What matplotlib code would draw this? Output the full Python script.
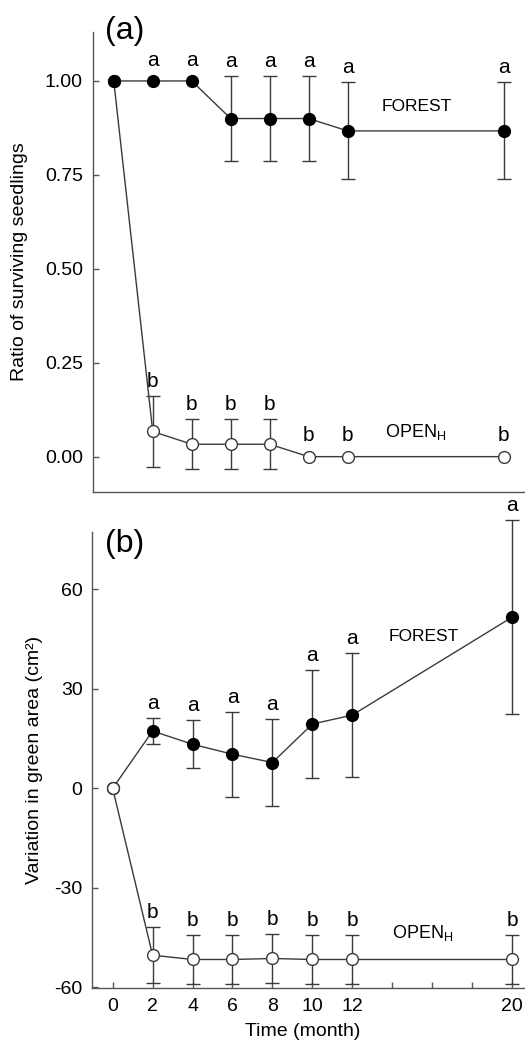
import matplotlib.pyplot as plt
import numpy as np

plt.rcParams['font.family'] = ['Liberation Sans', 'DejaVu Sans']
plt.rcParams['mathtext.default'] = 'regular'
plt.rcParams['axes.unicode_minus'] = False

# months
months = [0, 2, 4, 6, 8, 10, 12, 20]

# (a) ratio of surviving seedlings
forest_a = [1.0, 1.0, 1.0, 0.90, 0.90, 0.90, 0.867, 0.867]
forest_a_err = [0, 0, 0, 0.113, 0.113, 0.113, 0.129, 0.129]
open_a = [1.0, 0.067, 0.033, 0.033, 0.033, 0.0, 0.0, 0.0]
open_a_err = [0, 0.095, 0.067, 0.067, 0.067, 0, 0, 0]

# (b) variation in green area
forest_b = [0, 17.3, 13.3, 10.3, 7.8, 19.4, 22.1, 51.6]
forest_b_err = [0, 4.0, 7.2, 12.8, 13.0, 16.3, 18.6, 29.2]
open_b = [0, -50.3, -51.6, -51.6, -51.3, -51.6, -51.6, -51.6]
open_b_err = [0, 8.4, 7.5, 7.5, 7.5, 7.5, 7.5, 7.5]

# significance letters (from month 2 on)
forest_letters = ['a'] * 7
open_letters = ['b'] * 7

xticks = [0, 2, 4, 6, 8, 10, 12, 14, 16, 18, 20]
xticklabels = ['0', '2', '4', '6', '8', '10', '12', '', '', '', '20']

lc = '#3a3a3a'
sc = '#555555'

fig = plt.figure(figsize=(5.25, 10.55), dpi=100)
ax1 = fig.add_axes([0.1766, 0.5334, 0.8234, 0.4363])
ax2 = fig.add_axes([0.1758, 0.0635, 0.8242, 0.4322])


def series(ax, y, err, filled, z):
    y = np.array(y)
    err = np.array(err, dtype=float)
    ax.plot(months, y, '-', color=lc, lw=1.0, zorder=z)
    m = err > 0
    ax.errorbar(np.array(months)[m], y[m], yerr=err[m], fmt='none', ecolor=lc,
                elinewidth=1.0, capsize=4.7, capthick=1.0, zorder=z, clip_on=False)
    if filled:
        ax.plot(months, y, 'o', ms=8.5, mfc='black', mec='black', mew=1.0, zorder=z + 1, clip_on=False)
    else:
        ax.plot(months, y, 'o', ms=8.5, mfc='white', mec=lc, mew=1.0, zorder=z + 1, clip_on=False)


def letters(ax, y, err, labs):
    for xi, yi, ei, lab in zip(months[1:], y[1:], err[1:], labs):
        if ei > 0:
            ax.annotate(lab, (xi, yi + ei), xytext=(0, 10.5), textcoords='offset points',
                        ha='center', va='center', fontsize=15, annotation_clip=False)
        else:
            ax.annotate(lab, (xi, yi), xytext=(0, 15), textcoords='offset points',
                        ha='center', va='center', fontsize=15, annotation_clip=False)


# panel (a)
series(ax1, open_a, open_a_err, False, 2)
series(ax1, forest_a, forest_a_err, True, 4)
letters(ax1, forest_a, forest_a_err, forest_letters)
letters(ax1, open_a, open_a_err, open_letters)
ax1.text(15.55, 0.931, 'FOREST', ha='center', va='center', fontsize=12.5)
ax1.text(15.5, 0.066, r'OPEN$_{H}$', ha='center', va='center', fontsize=13)
ax1.set_xlim(-1.08, 21.1)
ax1.set_ylim(-0.0948, 1.1304)
ax1.set_yticks([0, 0.25, 0.5, 0.75, 1.0])
ax1.set_yticklabels(['0.00', '0.25', '0.50', '0.75', '1.00'])
ax1.tick_params(axis='x', bottom=False, labelbottom=False)
ax1.set_ylabel('Ratio of surviving seedlings', fontsize=14)
ax1.yaxis.set_label_coords(-0.150, 0.5)
ax1.text(0.074, 1.003, '(a)', transform=ax1.transAxes, ha='center', va='center', fontsize=23)

# panel (b)
series(ax2, forest_b, forest_b_err, True, 2)
series(ax2, open_b, open_b_err, False, 4)
letters(ax2, forest_b, forest_b_err, forest_letters)
letters(ax2, open_b, open_b_err, open_letters)
ax2.text(15.6, 45.8, 'FOREST', ha='center', va='center', fontsize=12.5)
ax2.text(15.5, -43.6, r'OPEN$_{H}$', ha='center', va='center', fontsize=13)
ax2.set_xlim(-1.02, 20.65)
ax2.set_ylim(-60.2, 77.3)
ax2.set_yticks([-60, -30, 0, 30, 60])
ax2.set_xticks(xticks)
ax2.set_xticklabels(xticklabels)
ax2.set_ylabel('Variation in green area (cm²)', fontsize=14)
ax2.yaxis.set_label_coords(-0.114, 0.5)
ax2.set_xlabel('Time (month)', fontsize=14)
ax2.xaxis.set_label_coords(0.487, -0.077)
ax2.text(0.074, 0.974, '(b)', transform=ax2.transAxes, ha='center', va='center', fontsize=23)

for ax in (ax1, ax2):
    for s in ('top', 'right'):
        ax.spines[s].set_visible(False)
    for s in ('left', 'bottom'):
        ax.spines[s].set_color(sc)
        ax.spines[s].set_linewidth(1.0)
    ax.tick_params(direction='in', length=4, width=1.0, color=sc, labelsize=14, pad=7)

fig.savefig('out.png', dpi=100)
plt.close(fig)
